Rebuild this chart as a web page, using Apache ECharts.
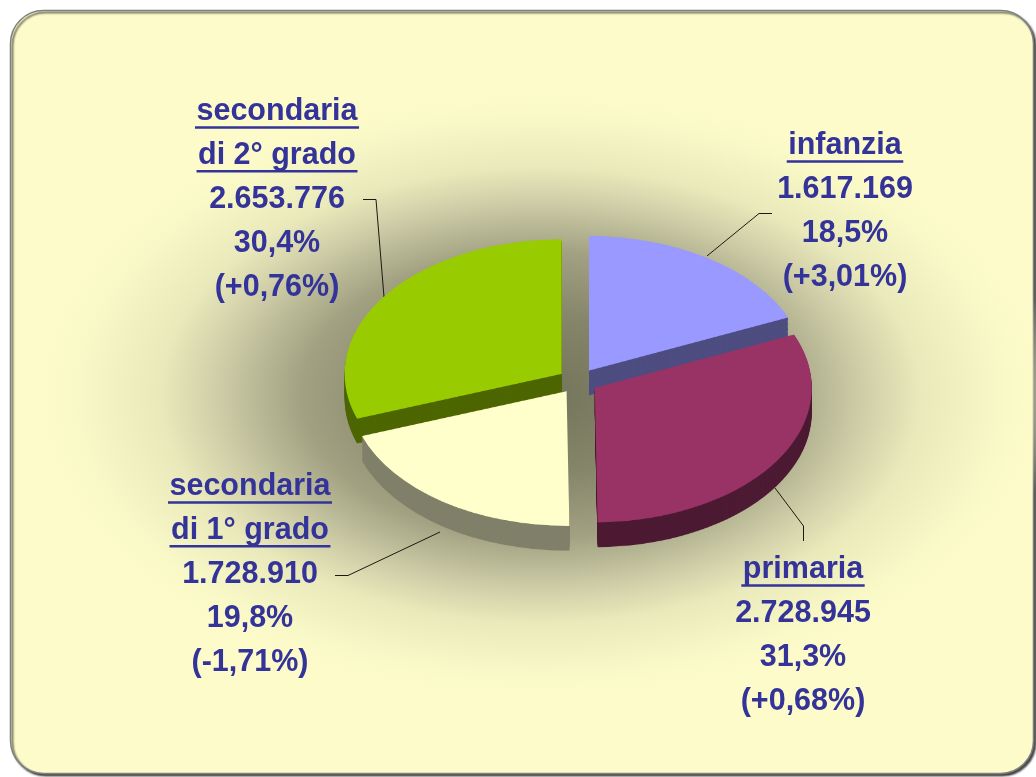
<!DOCTYPE html>
<html>
<head>
<meta charset="utf-8">
<script src="https://cdn.jsdelivr.net/npm/echarts@6/dist/echarts.min.js"></script>
<style>
  html, body { margin: 0; padding: 0; background: #ffffff; }
  #wrap { position: relative; width: 1036px; height: 777px; overflow: hidden; }
  #sfondo { position: absolute; left: 0; top: 0; width: 1036px; height: 777px; }
  /* la torta viene schiacciata in verticale per dare la prospettiva */
  #torta { position: absolute; left: 0; top: 0; width: 1036px; height: 1254px;
           transform: scaleY(0.62); transform-origin: 0 0; pointer-events: none; }
</style>
</head>
<body>
<div id="wrap">
  <div id="sfondo"></div>
  <div id="torta"></div>
</div>
<script>
// dati
var categorie = ['infanzia', 'primaria', 'secondaria di 1° grado', 'secondaria di 2° grado'];
var righeNome = [['infanzia'], ['primaria'], ['secondaria', 'di 1° grado'], ['secondaria', 'di 2° grado']];
var alunni = [1617169, 2728945, 1728910, 2653776];
var variazione = [3.01, 0.68, -1.71, 0.76];

// colori
var coloriSopra = ['#9999ff', '#993366', '#ffffcc', '#99cc00'];
var coloriLato = ['#4d4d80', '#4d1a33', '#80806a', '#4d6600'];

// posizione etichette (centro prima riga) e linee guida
var etichettaX = [845, 803, 250, 277];
var etichettaY = [146, 570, 487, 112];
var lineeGuida = [
    [[772, 213.5], [759, 213.5], [707, 256]],
    [[803.5, 541], [803.5, 526], [775, 488]],
    [[335, 575.5], [348, 575.5], [440, 532]],
    [[363, 199.5], [376, 199.5], [384, 297]]
];

var totale = alunni.reduce(function (a, b) { return a + b; }, 0);
var font = { fontSize: 30.5, fontWeight: 'bold', fontFamily: '"Liberation Sans", Arial, sans-serif' };

function migliaia(v) {
    return String(v).replace(/\B(?=(\d{3})+(?!\d))/g, '.');
}

var ctx = document.createElement('canvas').getContext('2d');
ctx.font = 'bold 30.5px "Liberation Sans", Arial, sans-serif';

var grafica = [];
// ombra + cornice
grafica.push({
    type: 'rect', z: 0,
    shape: { x: 10.5, y: 10.5, width: 1023, height: 763, r: 33 },
    style: { fill: '#fcfbc9', stroke: '#808080', lineWidth: 1.5,
             shadowColor: 'rgba(0,0,0,0.7)', shadowOffsetX: 2, shadowOffsetY: 2, shadowBlur: 2 }
});
// alone scuro dietro la torta
grafica.push({
    type: 'circle', z: 1, x: 540, y: 395, scaleY: 0.6,
    shape: { cx: 0, cy: 0, r: 520 },
    style: {
        fill: {
            type: 'radial', x: 0.5, y: 0.5, r: 0.5,
            colorStops: [
                { offset: 0, color: '#74745a' },
                { offset: 0.25, color: '#85856a' },
                { offset: 0.46, color: '#a2a182' },
                { offset: 0.6, color: '#c9c8a3' },
                { offset: 0.73, color: '#eae9bb' },
                { offset: 0.88, color: '#f8f7c6' },
                { offset: 1, color: 'rgba(252,251,201,0)' }
            ]
        }
    }
});

for (var i = 0; i < alunni.length; i++) {
    var perc = (alunni[i] / totale * 100).toFixed(1).replace('.', ',') + '%';
    var vari = '(' + (variazione[i] > 0 ? '+' : '') + variazione[i].toFixed(2).replace('.', ',') + '%)';
    var righe = righeNome[i].concat([migliaia(alunni[i]), perc, vari]);
    for (var j = 0; j < righe.length; j++) {
        var y = etichettaY[i] + j * 43.8;
        grafica.push({
            type: 'text', z: 5,
            style: Object.assign({
                text: righe[j], x: etichettaX[i], y: y,
                fill: '#333399', align: 'center', verticalAlign: 'middle'
            }, font)
        });
        if (j < righeNome[i].length) {
            var w = ctx.measureText(righe[j]).width + 3;
            grafica.push({
                type: 'line', z: 5,
                shape: { x1: etichettaX[i] - w / 2, y1: y + 15.5, x2: etichettaX[i] + w / 2, y2: y + 15.5 },
                style: { stroke: '#333399', lineWidth: 2.5 }
            });
        }
    }
    grafica.push({
        type: 'polyline', z: 4,
        shape: { points: lineeGuida[i] },
        style: { stroke: '#1a1a10', lineWidth: 1, fill: null }
    });
}

var chartSfondo = echarts.init(document.getElementById('sfondo'));
chartSfondo.setOption({
    backgroundColor: '#ffffff',
    animation: false,
    graphic: grafica
});

// torta 3D: strati scuri impilati + faccia superiore
function strato(cy, colori, z) {
    return {
        type: 'pie',
        center: [578, cy],
        radius: 217,
        startAngle: 90,
        clockwise: true,
        selectedMode: 'multiple',
        selectedOffset: 20,
        silent: true,
        animation: false,
        avoidLabelOverlap: false,
        z: z,
        label: { show: false },
        labelLine: { show: false },
        emphasis: { disabled: true },
        itemStyle: { borderWidth: 0 },
        data: alunni.map(function (v, k) {
            return {
                name: categorie[k], value: v, selected: true,
                itemStyle: { color: colori[k], borderWidth: 0 },
                select: { itemStyle: { color: colori[k], borderWidth: 0 } }
            };
        })
    };
}

var cy0 = 381 / 0.62;
var serie = [];
for (var d = 40, n = 0; d > 0; d -= 2, n++) {
    serie.push(strato(cy0 + d, coloriLato, 2 + n * 0.01));
}
serie.push(strato(cy0, coloriSopra, 3));

var chartTorta = echarts.init(document.getElementById('torta'));
chartTorta.setOption({
    backgroundColor: 'transparent',
    animation: false,
    series: serie
});
</script>
</body>
</html>
